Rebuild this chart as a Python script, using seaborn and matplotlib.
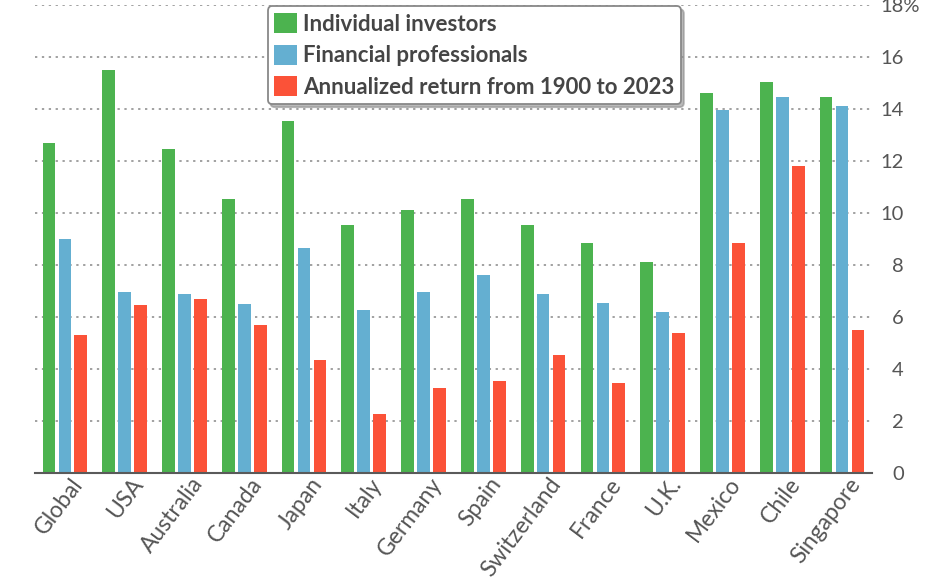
import numpy as np
import pandas as pd
import matplotlib
matplotlib.use('Agg')
import matplotlib.pyplot as plt
import matplotlib.transforms as mtransforms
import seaborn as sns

countries = ['Global', 'USA', 'Australia', 'Canada', 'Japan', 'Italy', 'Germany',
             'Spain', 'Switzerland', 'France', 'U.K.', 'Mexico', 'Chile', 'Singapore']
individual = [12.7, 15.5, 12.45, 10.55, 13.55, 9.55, 10.1, 10.55, 9.55, 8.85, 8.1, 14.6, 15.05, 14.45]
professional = [9.0, 6.95, 6.9, 6.5, 8.65, 6.25, 6.95, 7.6, 6.9, 6.55, 6.2, 13.95, 14.45, 14.1]
annualized = [5.3, 6.45, 6.7, 5.7, 4.35, 2.25, 3.25, 3.55, 4.55, 3.45, 5.4, 8.85, 11.8, 5.5]
series_names = ['Individual investors', 'Financial professionals',
                'Annualized return from 1900 to 2023']
colors = ['#4cb34f', '#64afd1', '#fb5238']
yticks = [0, 2, 4, 6, 8, 10, 12, 14, 16, 18]
ytick_labels = ['0', '2', '4', '6', '8', '10', '12', '14', '16', '18%']

df = pd.DataFrame({
    'country': countries * 3,
    'value': individual + professional + annualized,
    'series': [series_names[0]] * 14 + [series_names[1]] * 14 + [series_names[2]] * 14,
})

sns.set_style('white')
plt.rcParams['font.family'] = ['Lato', 'DejaVu Sans']

fig = plt.figure(figsize=(9.33, 5.82), dpi=100)
ax = fig.add_axes([0.0375, 0.1873, 0.897, 0.8041])

sns.barplot(data=df, x='country', y='value', hue='series', palette=colors,
            width=0.8, gap=0.2, saturation=1, linewidth=0, ax=ax)

ax.set_xlim(-0.5, 13.5)
ax.set_ylim(0, 18)
ax.set_xlabel('')
ax.set_ylabel('')
ax.set_axisbelow(True)
ax.yaxis.grid(True, color='#888888', linestyle=(0, (1.5, 3)), linewidth=1.1)
ax.xaxis.grid(False)

for s in ['top', 'left', 'right']:
    ax.spines[s].set_visible(False)
ax.spines['bottom'].set_color('#5a5a5a')
ax.spines['bottom'].set_linewidth(1.5)

ax.yaxis.tick_right()
ax.set_yticks(yticks)
ax.set_yticklabels(ytick_labels)
ax.tick_params(axis='y', length=0, pad=23, labelsize=14.5, labelcolor='#555555')
for lab in ax.get_yticklabels():
    lab.set_horizontalalignment('right')
# let the "%" hang past the other labels
top = ax.get_yticklabels()[-1]
top.set_horizontalalignment('left')
top.set_transform(top.get_transform() +
                  mtransforms.ScaledTranslation(-23 / 100, 0, fig.dpi_scale_trans))

ax.tick_params(axis='x', length=0, pad=5, labelsize=16.5, labelcolor='#555555')
offset = mtransforms.ScaledTranslation(14 / 100, 0, fig.dpi_scale_trans)
for lab in ax.get_xticklabels():
    lab.set_rotation(53)
    lab.set_horizontalalignment('right')
    lab.set_verticalalignment('center')
    lab.set_rotation_mode('anchor')
    lab.set_transform(lab.get_transform() + offset)

handles, labels = ax.get_legend_handles_labels()
leg = ax.legend(handles, labels, loc='upper left', bbox_to_anchor=(0.278, 0.997),
                fontsize=16, frameon=True, fancybox=True,
                shadow={'color': '0.55', 'alpha': 0.6, 'ox': 2, 'oy': -2},
                handlelength=1.0, handleheight=1.0, handletextpad=0.3,
                borderpad=0.3, labelspacing=0.45, borderaxespad=0, framealpha=1)
leg.get_frame().set_edgecolor('#888888')
leg.get_frame().set_linewidth(1.3)
for t in leg.get_texts():
    t.set_color('#454545')
    t.set_fontweight('bold')

fig.savefig('out.png', dpi=100)
